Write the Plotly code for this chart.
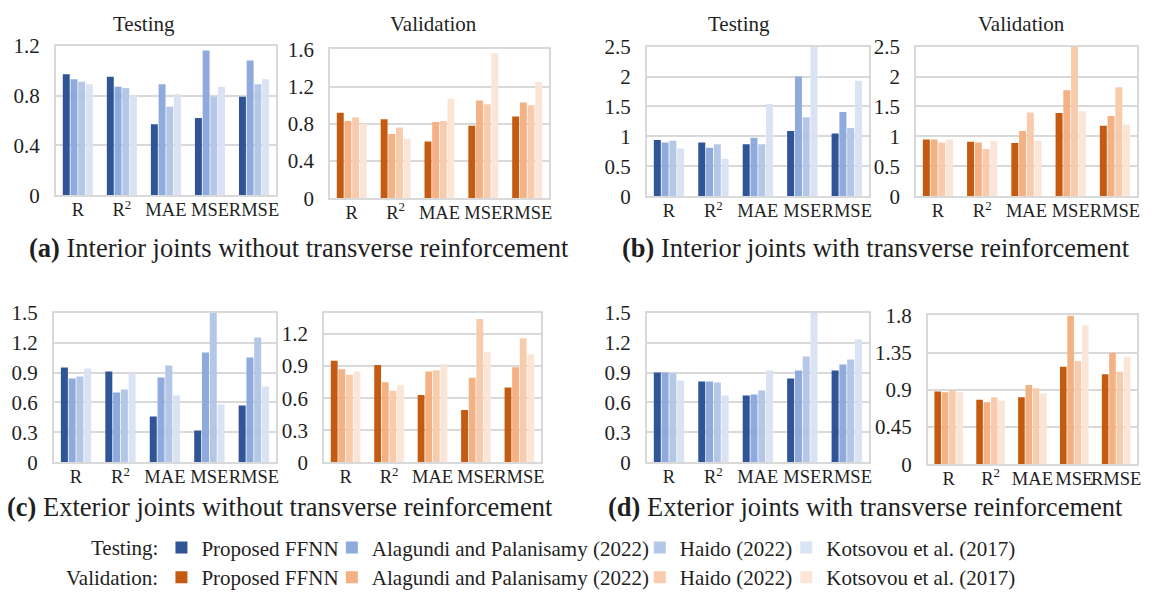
import plotly.graph_objects as go

W, H = 1158, 605

metrics = ["R", "R<sup>2</sup>", "MAE", "MSE", "RMSE"]
models = ["Proposed FFNN", "Alagundi and Palanisamy (2022)", "Haido (2022)", "Kotsovou et al. (2017)"]

# each row follows `models`, each column follows `metrics`
a_testing = [
    [0.97, 0.95, 0.57, 0.62, 0.79],
    [0.93, 0.87, 0.89, 1.16, 1.08],
    [0.91, 0.86, 0.71, 0.79, 0.89],
    [0.89, 0.80, 0.81, 0.87, 0.93],
]
a_validation = [
    [0.92, 0.85, 0.61, 0.78, 0.88],
    [0.83, 0.69, 0.82, 1.05, 1.03],
    [0.87, 0.76, 0.83, 1.01, 1.00],
    [0.80, 0.64, 1.07, 1.56, 1.25],
]
b_testing = [
    [0.94, 0.90, 0.87, 1.09, 1.05],
    [0.90, 0.81, 0.98, 2.00, 1.41],
    [0.93, 0.87, 0.87, 1.32, 1.14],
    [0.80, 0.63, 1.54, 2.50, 1.93],
]
b_validation = [
    [0.95, 0.91, 0.89, 1.39, 1.18],
    [0.95, 0.90, 1.09, 1.77, 1.34],
    [0.90, 0.79, 1.40, 2.50, 1.82],
    [0.95, 0.92, 0.93, 1.42, 1.20],
]
c_testing = [
    [0.95, 0.91, 0.46, 0.32, 0.57],
    [0.84, 0.70, 0.85, 1.10, 1.05],
    [0.86, 0.73, 0.97, 1.50, 1.25],
    [0.94, 0.89, 0.67, 0.58, 0.76],
]
c_validation = [
    [0.95, 0.91, 0.63, 0.49, 0.70],
    [0.87, 0.75, 0.85, 0.79, 0.89],
    [0.82, 0.67, 0.86, 1.34, 1.16],
    [0.85, 0.72, 0.92, 1.03, 1.01],
]
d_testing = [
    [0.90, 0.81, 0.67, 0.84, 0.92],
    [0.90, 0.81, 0.68, 0.92, 0.98],
    [0.89, 0.80, 0.72, 1.06, 1.03],
    [0.82, 0.67, 0.92, 1.50, 1.23],
]
d_validation = [
    [0.88, 0.78, 0.81, 1.18, 1.09],
    [0.87, 0.75, 0.96, 1.80, 1.35],
    [0.90, 0.81, 0.92, 1.25, 1.12],
    [0.87, 0.77, 0.86, 1.68, 1.30],
]

# y-axis tick labels per panel
ticks_a_testing = ["0", "0.4", "0.8", "1.2"]
ticks_a_validation = ["0", "0.4", "0.8", "1.2", "1.6"]
ticks_b = ["0", "0.5", "1", "1.5", "2", "2.5"]
ticks_c_testing = ["0", "0.3", "0.6", "0.9", "1.2", "1.5"]
ticks_c_validation = ["0", "0.3", "0.6", "0.9", "1.2"]
ticks_d_testing = ["0", "0.3", "0.6", "0.9", "1.2", "1.5"]
ticks_d_validation = ["0", "0.45", "0.9", "1.35", "1.8"]

captions = [
    "<b>(a)</b> Interior joints without transverse reinforcement",
    "<b>(b)</b> Interior joints with transverse reinforcement",
    "<b>(c)</b> Exterior joints without transverse reinforcement",
    "<b>(d)</b> Exterior joints with transverse reinforcement",
]

BLUES = ["#2F5597", "#8FAADC", "#B4C7E7", "#DAE3F3"]
ORANGES = ["#C55A11", "#F4B183", "#F8CBAD", "#FBE5D6"]
FONT = "Liberation Serif"
INK = "#1f1f1f"
GRID = "#D9D9D9"


def px_x(x):
    return x / W


def px_y(y):
    return 1 - y / H


# (data, tick labels, axis max, pixel box [x0, x1, y0, y1], colours, is validation)
panels = [
    (a_testing, ticks_a_testing, 1.2, (56, 277, 35, 191), BLUES, False),
    (a_validation, ticks_a_validation, 1.6, (331, 551, 39, 194), ORANGES, True),
    (b_testing, ticks_b, 2.5, (649, 872, 36, 192), BLUES, False),
    (b_validation, ticks_b, 2.5, (919, 1141, 36, 192), ORANGES, True),
    (c_testing, ticks_c_testing, 1.5, (54, 277, 313, 469), BLUES, False),
    (c_validation, ticks_c_validation, 1.4, (325, 543, 313, 469), ORANGES, True),
    (d_testing, ticks_d_testing, 1.5, (649, 872, 313, 469), BLUES, False),
    (d_validation, ticks_d_validation, 1.8, (931, 1141, 316, 471), ORANGES, True),
]

fig = go.Figure()
layout_axes = {}

for p, (data, ticktext, ymax, box, colors, is_val) in enumerate(panels):
    idx = "" if p == 0 else str(p + 1)
    x0, x1, y0, y1 = box
    for m, (name, values) in enumerate(zip(models, data)):
        n = m + 1 + (4 if is_val else 0)
        legend_id = "legend" if n == 1 else f"legend{n}"
        fig.add_trace(go.Bar(
            x=metrics, y=values, name=name,
            marker=dict(color=colors[m], line=dict(width=0)),
            xaxis="x" + idx, yaxis="y" + idx,
            showlegend=p in (0, 1), legend=legend_id,
        ))
    layout_axes["xaxis" + idx] = dict(
        domain=[px_x(x0), px_x(x1)], anchor="y" + idx, type="category",
        showline=True, mirror=True, linecolor=GRID, linewidth=1.5,
        ticks="", showgrid=False, tickangle=0, ticklabelstandoff=-3,
        tickfont=dict(family=FONT, size=18.5, color=INK), fixedrange=True,
    )
    layout_axes["yaxis" + idx] = dict(
        domain=[px_y(y1), px_y(y0)], anchor="x" + idx, range=[0, ymax],
        tickvals=[float(t) for t in ticktext], ticktext=ticktext,
        showline=True, mirror=True, linecolor=GRID, linewidth=1.5,
        showgrid=True, gridcolor=GRID, gridwidth=1.5, zeroline=False,
        ticks="", ticklabelstandoff=10,
        tickfont=dict(family=FONT, size=21, color=INK), fixedrange=True,
    )

annotations = []
# column headings above the top row
for text, xc in [("Testing", 145), ("Validation", 435), ("Testing", 742), ("Validation", 1025)]:
    annotations.append(dict(text=text, x=px_x(xc), y=px_y(13), xref="paper", yref="paper",
                            showarrow=False, xanchor="center", yanchor="middle",
                            font=dict(family=FONT, size=21, color=INK)))
# panel captions
for text, xc, yc in zip(captions, [300, 879, 281, 868], [246, 246, 515, 515]):
    annotations.append(dict(text=text, x=px_x(xc), y=px_y(yc), xref="paper", yref="paper",
                            showarrow=False, xanchor="center", yanchor="middle",
                            font=dict(family=FONT, size=26.5, color=INK)))
# legend row headings
for text, yc in [("Testing:", 558), ("Validation:", 589)]:
    annotations.append(dict(text=text, x=px_x(161), y=px_y(yc), xref="paper", yref="paper",
                            showarrow=False, xanchor="right", yanchor="middle",
                            font=dict(family=FONT, size=21, color=INK)))

legends = {}
text_starts = [199, 370, 679, 826]
for row, yc in enumerate([558, 589]):
    for m, xs in enumerate(text_starts):
        n = row * 4 + m + 1
        key = "legend" if n == 1 else f"legend{n}"
        legends[key] = dict(
            x=px_x(xs - 37), y=px_y(yc), xanchor="left", yanchor="middle",
            orientation="h", bgcolor="rgba(0,0,0,0)", borderwidth=0,
            font=dict(family=FONT, size=21, color=INK), itemclick=False,
        )

fig.update_layout(
    width=W, height=H, autosize=False,
    margin=dict(l=0, r=0, t=0, b=0),
    paper_bgcolor="white", plot_bgcolor="white",
    barmode="group", bargap=0.3, bargroupgap=0.1,
    font=dict(family=FONT, color=INK),
    annotations=annotations,
    **layout_axes, **legends,
)

fig.write_html("out.html")
